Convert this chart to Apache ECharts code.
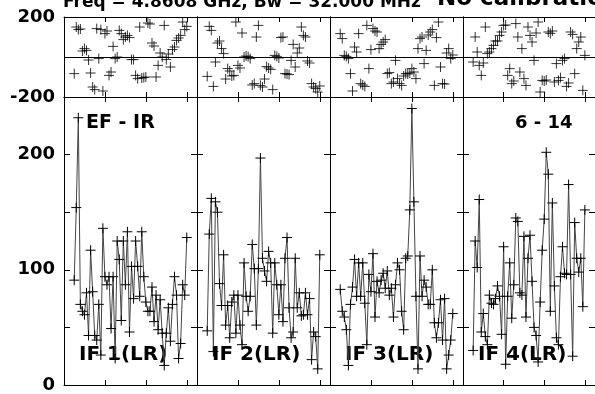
<!DOCTYPE html>
<html>
<head>
<meta charset="utf-8">
<script src="https://cdn.jsdelivr.net/npm/echarts@6/dist/echarts.min.js"></script>
<style>
html, body { margin: 0; padding: 0; background: #fff; }
#chart { width: 595px; height: 394px; }
</style>
</head>
<body>
<div id="chart"></div>
<script>
// channel numbers (same for every IF)
const channels = [5, 6, 7, 8, 9, 10, 11, 12, 13, 14, 15, 16, 17, 18, 19, 20, 21, 22, 23, 24,
    25, 26, 27, 28, 29, 30, 31, 32, 33, 34, 35, 36, 37, 38, 39, 40, 41, 42, 43, 44,
    45, 46, 47, 48, 49, 50, 51, 52, 53, 54, 55, 56, 57, 58, 59, 60];

// amplitude per IF
const ampIF1 = [91, 154, 232, 70, 64, 61, 80, 43, 117, 81, 43, 39, 70, 26, 136, 94, 87, 94, 49, 94,
    23, 125, 109, 56, 125, 87, 133, 46, 103, 75, 125, 103, 77, 133, 94, 72, 64, 64, 85, 55,
    78, 48, 74, 45, 17, 45, 67, 38, 70, 94, 78, 23, 36, 87, 78, 128];
const ampIF2 = [47, 131, 162, 29, 159, 150, 88, 69, 113, 52, 69, 41, 72, 78, 45, 78, 52, 35, 106, 77,
    64, 77, 122, 101, 52, 101, 197, 110, 99, 90, 116, 106, 45, 106, 87, 61, 87, 55, 110, 128,
    67, 41, 46, 110, 67, 80, 60, 61, 80, 61, 75, 22, 46, 42, 14, 113];
const ampIF3 = [83, 64, 59, 48, 17, 70, 85, 109, 77, 106, 77, 106, 71, 35, 96, 81, 114, 59, 90, 80,
    91, 97, 84, 99, 78, 84, 59, 87, 106, 100, 64, 48, 110, 112, 152, 240, 159, 77, 14, 112,
    77, 91, 85, 70, 70, 100, 54, 41, 54, 74, 39, 75, 14, 26, 39, 62];
const ampIF4 = [30, 125, 102, 161, 46, 62, 42, 35, 78, 71, 70, 75, 86, 77, 44, 120, 18, 77, 106, 58,
    87, 145, 142, 80, 78, 129, 59, 110, 130, 90, 50, 43, 20, 72, 117, 144, 202, 183, 64, 158,
    86, 41, 35, 94, 120, 97, 96, 174, 96, 25, 141, 110, 98, 110, 68, 152];

// phase per IF (degrees)
const phIF1 = [-83, 150, 137, 140, 30, 42, 33, -15, -80, -150, -163, 142, -8, 137, -170, 117, 130, -92, -75, 53,
    -8, 0, 133, 117, 87, 100, 108, 97, -13, -13, -92, -108, 150, -105, -103, -100, 170, 165, 70, 55,
    -100, -42, 20, 0, 158, -13, 15, -50, 37, 50, 83, 95, 108, 175, 137, 153];
const phIF2 = [-97, 153, 133, -147, -25, 70, 80, 42, 17, -110, -58, -70, -95, -92, 175, -42, -55, 120, 0, 5,
    2, -8, -140, -133, 100, 158, -142, -150, -110, -48, -55, -62, -163, 8, 3, -5, 97, 100, -83, -85,
    -88, -17, 63, -50, 20, 45, 150, 108, 100, -20, -30, -133, -150, -158, -175, -145];
const phIF3 = [117, 92, 8, 3, -8, -83, -170, 50, 25, 117, -133, -140, -147, 158, -58, 37, 142, 130, 125, 42,
    63, 75, 87, -83, -78, -133, -125, -17, -108, -133, -142, -95, -83, -85, -80, -58, -75, -108, 42, 92,
    100, -33, 33, 110, 125, 137, -142, 97, 175, -50, -133, -135, 20, 42, -8, 10];
const phIF4 = [-25, 100, 25, -42, -92, -30, 150, 17, 25, 42, 58, 80, 80, 108, 125, 158, 160, -92, -58, -133,
    -120, 167, 100, -75, 42, -108, -142, 150, 108, 75, -17, 120, 175, -175, -117, -120, -115, 125, 118, 130,
    -125, -33, -117, -103, -17, -8, -147, -130, 125, 113, -83, 42, 75, 100, -167, 8];

const ampTicks = [0, 100, 200];
const phaseTicks = [-200, 200];
const ifNames = ['IF 1(LR)', 'IF 2(LR)', 'IF 3(LR)', 'IF 4(LR)'];
const title = 'Freq = 4.8608 GHz, Bw = 32.000 MHz';
const title2 = 'No calibration applied';
const baseline = 'EF - IR';
const timeRange = '6 - 14';

const ampData = [ampIF1, ampIF2, ampIF3, ampIF4];
const phData = [phIF1, phIF2, phIF3, phIF4];

const chartDom = document.getElementById('chart');
const myChart = echarts.init(chartDom);

const panelLeft = [64, 197, 330, 463];
const panelWidth = 133;
const font = 'DejaVu Sans';
const cross = 'path://M0,5L10,5M5,0L5,10';

const grids = [];
const xAxes = [];
const yAxes = [];
const series = [];

panelLeft.forEach(left => grids.push({ left: left, top: 17, width: panelWidth, height: 80 }));   // phase
panelLeft.forEach(left => grids.push({ left: left, top: 97, width: panelWidth, height: 288 }));  // amplitude

const axisLine = { show: true, onZero: false, lineStyle: { color: '#000', width: 1 } };

grids.forEach((g, gi) => {
    const isAmp = gi >= 4;
    ['bottom', 'top'].forEach(pos => {
        xAxes.push({
            type: 'value', gridIndex: gi, position: pos, min: 0, max: 65, interval: 20,
            axisLine: axisLine,
            axisTick: { show: true, inside: true, length: 5, lineStyle: { color: '#000' } },
            axisLabel: { show: false },
            splitLine: { show: false }
        });
    });
    ['left', 'right'].forEach(pos => {
        const showLabel = pos === 'left' && (gi === 0 || gi === 4);
        yAxes.push({
            type: 'value', gridIndex: gi, position: pos,
            min: isAmp ? 0 : -200, max: isAmp ? 250 : 200, interval: isAmp ? 50 : 200,
            axisLine: axisLine,
            axisTick: { show: isAmp, inside: true, length: 6, lineStyle: { color: '#000' } },
            axisLabel: {
                show: showLabel, color: '#000', fontFamily: font, fontWeight: 'bold', fontSize: 18, margin: 9,
                formatter: v => (isAmp ? ampTicks : phaseTicks).includes(v) ? String(v) : ''
            },
            splitLine: { show: false }
        });
    });
});

for (let i = 0; i < 4; i++) {
    // phase: crosses only
    series.push({
        type: 'scatter', xAxisIndex: 2 * i, yAxisIndex: 2 * i,
        data: channels.map((c, k) => [c, phData[i][k]]),
        symbol: cross, symbolSize: 10,
        itemStyle: { color: 'none', borderColor: '#000', borderWidth: 1 },
        markLine: {
            silent: true, symbol: ['none', 'none'], label: { show: false },
            lineStyle: { color: '#000', type: 'solid', width: 1 },
            data: [{ yAxis: 0 }]
        }
    });
    // amplitude: line with crosses
    series.push({
        type: 'line', xAxisIndex: 2 * (i + 4), yAxisIndex: 2 * (i + 4),
        data: channels.map((c, k) => [c, ampData[i][k]]),
        symbol: cross, symbolSize: 10, showAllSymbol: true,
        lineStyle: { color: '#444', width: 1 },
        itemStyle: { color: 'none', borderColor: '#000', borderWidth: 1 }
    });
}

const textStyle = (txt, size) => ({ text: txt, fill: '#000', font: 'bold ' + size + 'px "' + font + '"' });

const graphic = [
    { type: 'text', left: 63, top: -6, style: textStyle(title, 17) },
    { type: 'text', left: 437, top: -12, style: textStyle(title2, 23) },
    { type: 'text', left: 86, top: 114, style: textStyle(baseline, 19) },
    { type: 'text', left: 515, top: 114, style: textStyle(timeRange, 18) }
];
ifNames.forEach((name, i) => {
    graphic.push({ type: 'text', left: panelLeft[i] + 15, top: 345, style: textStyle(name, 20) });
});

const option = {
    animation: false,
    grid: grids,
    xAxis: xAxes,
    yAxis: yAxes,
    series: series,
    graphic: graphic
};

myChart.setOption(option);
window.addEventListener('resize', () => myChart.resize());
</script>
</body>
</html>
